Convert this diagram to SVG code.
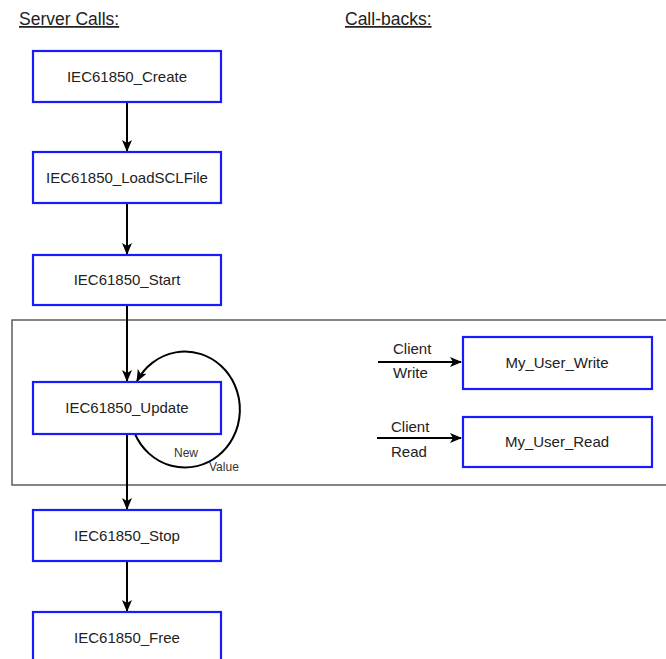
<svg xmlns="http://www.w3.org/2000/svg" width="666" height="659" viewBox="0 0 666 659">
<style>
.box{fill:#fff;stroke:#1a1aff;stroke-width:2.2}
.lbl{font-family:"Liberation Sans",Arial,sans-serif;font-size:15px;fill:#222;text-anchor:middle}
.hdr{font-family:"Liberation Sans",Arial,sans-serif;font-size:17.5px;fill:#222;text-decoration:underline}
.sm{font-family:"Liberation Sans",Arial,sans-serif;font-size:15px;fill:#222}
.tiny{font-family:"Liberation Sans",Arial,sans-serif;font-size:12px;fill:#333}
.con{fill:none;stroke:#000;stroke-width:2;marker-end:url(#ah)}
</style>
<defs>
<marker id="ah" viewBox="0 0 12 10" refX="11" refY="5" markerWidth="6" markerHeight="5" markerUnits="strokeWidth" orient="auto">
<path d="M0,0 L12,5 L0,10 L3,5 Z" fill="#000"/>
</marker>
</defs>
<rect width="666" height="659" fill="#fff"/>
<text class="hdr" x="19" y="25">Server Calls:</text>
<text class="hdr" x="345" y="25">Call-backs:</text>
<rect x="12" y="320" width="660" height="165" fill="none" stroke="#444" stroke-width="1.3"/>
<g id="connectors">
<line class="con" x1="127" y1="102" x2="127" y2="151"/>
<line class="con" x1="127" y1="203" x2="127" y2="254"/>
<line class="con" x1="127" y1="305" x2="127" y2="381"/>
<line class="con" x1="127" y1="434" x2="127" y2="509"/>
<line class="con" x1="127" y1="561" x2="127" y2="611"/>
<path class="con" d="M135,434 A55,58 0 1 0 137,381"/>
<line class="con" x1="378" y1="362" x2="461" y2="362"/>
<line class="con" x1="377" y1="438" x2="461" y2="438"/>
</g>
<text class="tiny" x="174" y="457">New</text>
<text class="tiny" x="209" y="471">Value</text>
<text class="sm" x="393" y="354">Client</text>
<text class="sm" x="393" y="378">Write</text>
<text class="sm" x="391" y="432">Client</text>
<text class="sm" x="391" y="457">Read</text>
<g id="create"><rect class="box" x="33" y="51" width="188" height="51"/><text class="lbl" x="127" y="82">IEC61850_Create</text></g>
<g id="load"><rect class="box" x="33" y="152" width="188" height="51"/><text class="lbl" x="127" y="183">IEC61850_LoadSCLFile</text></g>
<g id="start"><rect class="box" x="33" y="255" width="188" height="50"/><text class="lbl" x="127" y="285">IEC61850_Start</text></g>
<g id="update"><rect class="box" x="33" y="382" width="188" height="52"/><text class="lbl" x="127" y="413">IEC61850_Update</text></g>
<g id="stop"><rect class="box" x="33" y="510" width="188" height="51"/><text class="lbl" x="127" y="541">IEC61850_Stop</text></g>
<g id="free"><rect class="box" x="33" y="612" width="188" height="60"/><text class="lbl" x="127" y="643">IEC61850_Free</text></g>
<g id="write"><rect class="box" x="463" y="337" width="189" height="52"/><text class="lbl" x="557" y="368">My_User_Write</text></g>
<g id="read"><rect class="box" x="463" y="417" width="189" height="50"/><text class="lbl" x="557" y="447">My_User_Read</text></g>
</svg>
